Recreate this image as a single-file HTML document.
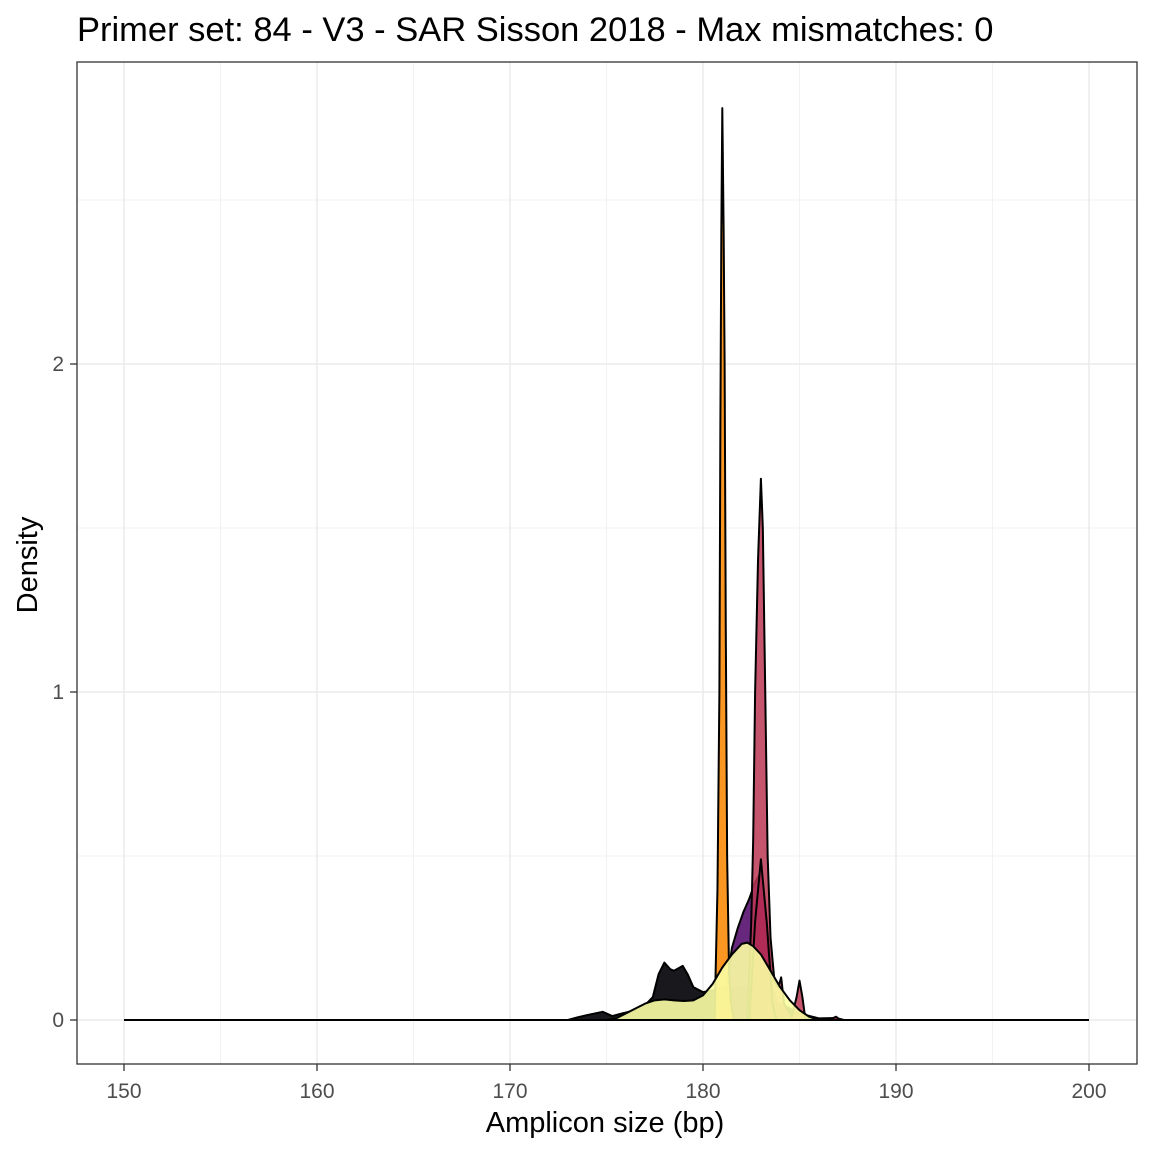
<!DOCTYPE html>
<html><head><meta charset="utf-8"><style>
html,body{margin:0;padding:0;background:#fff;}
svg{display:block;font-family:"Liberation Sans",sans-serif;}
</style></head><body>
<svg id="chart" width="1152" height="1152" viewBox="0 0 1152 1152">
<rect x="0" y="0" width="1152" height="1152" fill="#fff"/>
<text x="77" y="41" font-size="34.5" fill="#000">Primer set: 84 - V3 - SAR Sisson 2018 - Max mismatches: 0</text>
<g id="grid"></g>
<g id="series"></g>
<rect x="77" y="62" width="1060" height="1002" fill="none" stroke="#333" stroke-width="1.3"/>
<g id="axes"></g>
<text x="605" y="1132" font-size="29" text-anchor="middle" fill="#000">Amplicon size (bp)</text>
<text x="0" y="0" font-size="29" text-anchor="middle" fill="#000" transform="translate(37,565) rotate(-90)">Density</text>
</svg>
<script>
const xTicks=[150,160,170,180,190,200];
const yTicks=[0,1,2];
const yTickLabels=["0","1","2"];
const blackX=[173,173.5,174,174.8,175.3,175.8,176.5,177,177.4,177.7,178,178.3,178.5,178.95,179.2,179.5,180,180.5,181,182,183,184,185,186,186.9,187.3];
const blackD=[0,0.008,0.015,0.025,0.012,0.02,0.03,0.045,0.07,0.14,0.175,0.155,0.15,0.165,0.14,0.1,0.085,0.09,0.1,0.1,0.08,0.05,0.02,0.005,0.006,0];
const purpleX=[180.8,181.2,181.5,181.8,182.1,182.4,182.7,183,183.3,183.6,184,184.3];
const purpleD=[0,0.1,0.22,0.28,0.33,0.37,0.42,0.45,0.3,0.1,0.02,0];
const crimsonX=[182.3,182.5,182.6,182.7,182.85,183,183.1,183.2,183.35,183.5,183.7,183.9,184.05,184.2,184.6,184.85,185,185.15,185.3,186.5,186.9,187.1];
const crimsonD=[0,0.3,0.55,1.0,1.4,1.65,1.5,1.1,0.5,0.25,0.12,0.1,0.13,0.05,0.01,0.07,0.12,0.07,0.005,0,0.01,0];
const crimson2X=[182.4,182.7,183,183.3,183.6,183.8];
const crimson2D=[0,0.3,0.49,0.3,0.05,0];
const orangeX=[180.6,180.75,180.85,180.9,180.95,181,181.07,181.12,181.18,181.25,181.35,181.45,181.6];
const orangeD=[0,0.4,1.0,1.8,2.4,2.78,2.4,2.0,1.2,0.5,0.15,0.05,0];
const yellowX=[175,175.5,176,176.5,177,177.5,178,178.5,179,179.5,180,180.5,181,181.5,182,182.3,182.6,183,183.5,184,184.5,185,185.5,186];
const yellowD=[0,0.005,0.02,0.035,0.05,0.06,0.063,0.06,0.058,0.06,0.075,0.11,0.16,0.2,0.232,0.236,0.225,0.2,0.15,0.1,0.06,0.03,0.01,0];

const NS="http://www.w3.org/2000/svg";
function sx(v){return 124+(v-150)*(1089-124)/50;}
function sy(d){return 1020-d*328;}
function mk(tag,attrs,parent){const e=document.createElementNS(NS,tag);for(const k in attrs)e.setAttribute(k,attrs[k]);parent.appendChild(e);return e;}
const grid=document.getElementById('grid'),ser=document.getElementById('series'),axes=document.getElementById('axes');
for(let v=155;v<200;v+=10){const l=mk('line',{x1:sx(v),x2:sx(v),y1:62,y2:1064,stroke:'#f2f2f2','stroke-width':1},grid);

}
for(const d of [0.5,1.5,2.5]){const l=mk('line',{x1:77,x2:1137,y1:sy(d),y2:sy(d),stroke:'#f2f2f2','stroke-width':1},grid);

}
xTicks.forEach(v=>{const l=mk('line',{x1:sx(v),x2:sx(v),y1:62,y2:1064,stroke:'#ebebeb','stroke-width':1.5},grid);


const t=mk('line',{x1:sx(v),x2:sx(v),y1:1064,y2:1071,stroke:'#333','stroke-width':1.3},axes);


const tx=mk('text',{x:sx(v),y:1098,'font-size':21,'text-anchor':'middle',fill:'#4d4d4d'},axes);tx.textContent=v;

});
yTicks.forEach((d,i)=>{const l=mk('line',{x1:77,x2:1137,y1:sy(d),y2:sy(d),stroke:'#ebebeb','stroke-width':1.5},grid);


const t=mk('line',{x1:70,x2:77,y1:sy(d),y2:sy(d),stroke:'#333','stroke-width':1.3},axes);


const tx=mk('text',{x:64,y:sy(d)+7,'font-size':21,'text-anchor':'end',fill:'#4d4d4d'},axes);tx.textContent=yTickLabels[i];

});
function area(xs,ds,fill,op,name){let p='M'+sx(xs[0])+','+sy(0);xs.forEach((x,i)=>{p+=' L'+sx(x).toFixed(2)+','+sy(ds[i]).toFixed(2);});p+=' L'+sx(xs[xs.length-1])+','+sy(0)+' Z';
const e=mk('path',{d:p,fill:fill,'fill-opacity':op,stroke:'#000','stroke-width':2,'stroke-linejoin':'round'},ser);

}
area(blackX,blackD,'#000004',0.9,'density-series-1');
area(purpleX,purpleD,'#56106e',0.9,'density-series-2');
area(crimsonX,crimsonD,'#bb3754',0.85,'density-series-3');
area(crimson2X,crimson2D,'#b02a55',0.85,'density-series-4');
area(orangeX,orangeD,'#f98c0a',0.9,'density-series-5');
area(yellowX,yellowD,'#fcffa4',0.9,'density-series-6');
const base=mk('line',{x1:sx(150),x2:sx(200),y1:sy(0),y2:sy(0),stroke:'#000','stroke-width':2},ser);


</script>
</body></html>
